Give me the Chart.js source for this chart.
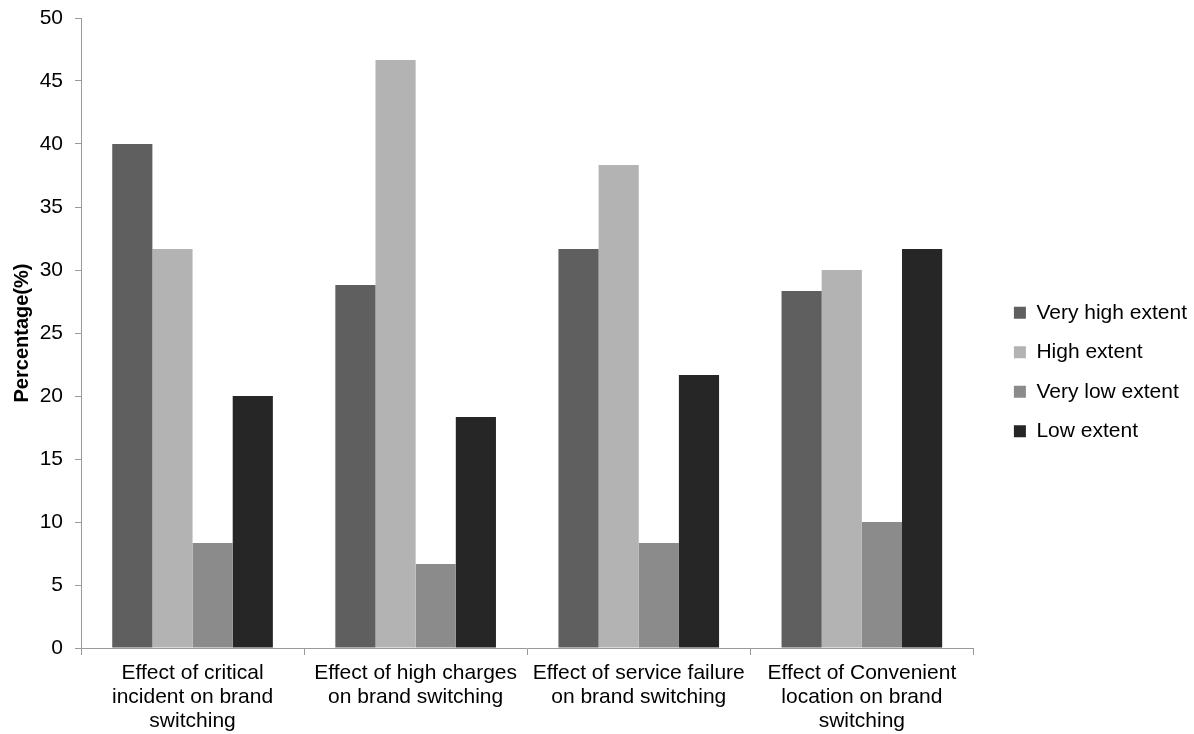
<!DOCTYPE html>
<html lang="en">
<head>
  <meta charset="UTF-8" />
  <title>Brand switching factors</title>
  <style>
    html, body { margin: 0; padding: 0; background: #ffffff; }
    .chart-container { width: 1194px; height: 734px; position: relative; }
  </style>
</head>
<body>
  <div class="chart-container">
    <canvas id="brandChart" width="1194" height="734"></canvas>
  </div>

  <script src="https://cdn.jsdelivr.net/npm/chart.js"></script>
  <script>
    // --- Data ---
    const categories = [
      ['Effect of critical', 'incident on brand', 'switching'],
      ['Effect of high charges', 'on brand switching'],
      ['Effect of service failure', 'on brand switching'],
      ['Effect of Convenient', 'location on brand', 'switching']
    ];
    const seriesNames = ['Very high extent', 'High extent', 'Very low extent', 'Low extent'];
    const veryHighExtent = [40, 28.8, 31.67, 28.33];
    const highExtent = [31.67, 46.67, 38.33, 30];
    const veryLowExtent = [8.33, 6.67, 8.33, 10];
    const lowExtent = [20, 18.33, 21.67, 31.67];
    const yTicks = [0, 5, 10, 15, 20, 25, 30, 35, 40, 45, 50];

    const seriesColors = ['#5f5f5f', '#b3b3b3', '#8b8b8b', '#262626'];
    const axisColor = '#9a9a9a';
    const fontFamily = '"Liberation Sans", Arial, sans-serif';

    const allSeries = [veryHighExtent, highExtent, veryLowExtent, lowExtent];

    // nudge the legend a bit further right of the plot (and a touch up), like the original
    const legendShift = {
      id: 'legendShift',
      afterLayout(chart) {
        if (chart.legend) {
          chart.legend.left += 22;
          chart.legend.right += 22;
          chart.legend.top -= 4;
          chart.legend.bottom -= 4;
        }
      }
    };

    document.addEventListener('DOMContentLoaded', () => {
      const ctx = document.getElementById('brandChart');

      new Chart(ctx, {
        type: 'bar',
        data: {
          labels: categories,
          datasets: allSeries.map((values, i) => ({
            label: seriesNames[i],
            data: values,
            backgroundColor: seriesColors[i],
            borderWidth: 0,
            barPercentage: 1.0,
            categoryPercentage: 0.72
          }))
        },
        options: {
          responsive: false,
          animation: false,
          layout: { padding: { top: 18, right: 19, bottom: 0, left: 0 } },
          scales: {
            x: {
              afterFit: (scale) => { scale.height = 86; },
              grid: {
                display: true,
                drawOnChartArea: false,
                offset: true,
                color: axisColor,
                tickLength: 7,
                tickColor: axisColor
              },
              border: { display: true, color: axisColor, width: 1 },
              ticks: {
                color: '#000000',
                font: { family: fontFamily, size: 21, lineHeight: 1.15 },
                maxRotation: 0,
                autoSkip: false,
                padding: 6
              }
            },
            y: {
              min: 0,
              max: 50,
              afterBuildTicks: (scale) => {
                scale.ticks = yTicks.map(v => ({ value: v }));
              },
              afterFit: (scale) => {
                scale.width = 81;
                scale.paddingTop = 0;
                scale.paddingBottom = 0;
              },
              grid: {
                display: true,
                drawOnChartArea: false,
                color: axisColor,
                tickLength: 6,
                tickColor: axisColor
              },
              border: { display: true, color: axisColor, width: 1 },
              ticks: {
                color: '#000000',
                font: { family: fontFamily, size: 21 },
                padding: 12
              },
              title: {
                display: true,
                text: 'Percentage(%)',
                color: '#000000',
                font: { family: fontFamily, size: 20, weight: 'bold' },
                padding: { top: 10, bottom: 0 }
              }
            }
          },
          plugins: {
            legend: {
              position: 'right',
              align: 'center',
              labels: {
                color: '#000000',
                boxWidth: 12,
                boxHeight: 12,
                padding: 18.5,
                font: { family: fontFamily, size: 21 }
              }
            },
            tooltip: { enabled: false }
          }
        },
        plugins: [legendShift]
      });
    });
  </script>
</body>
</html>
